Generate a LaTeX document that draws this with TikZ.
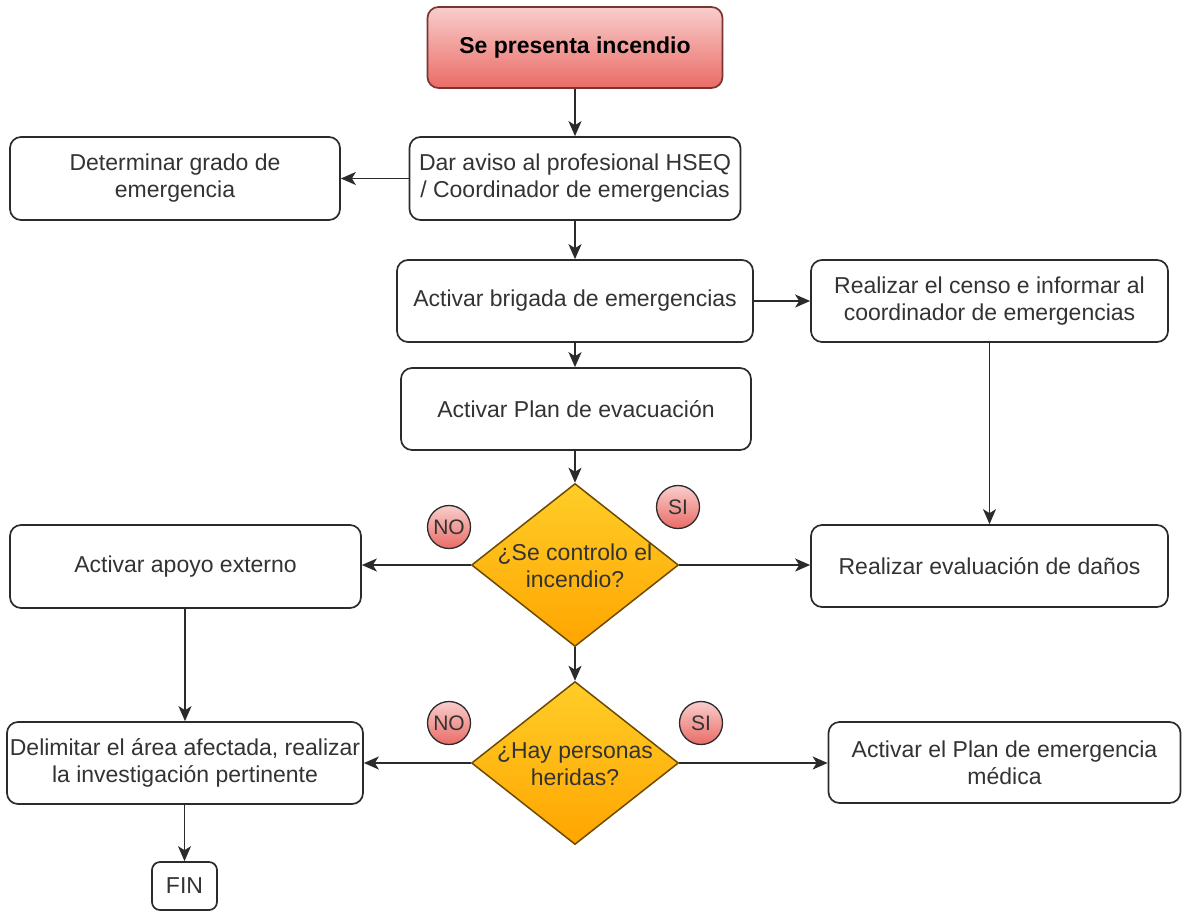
\documentclass[tikz,border=0pt]{standalone}
\usepackage{fontspec}
\setmainfont{Liberation Sans}
\usetikzlibrary{shapes.geometric,arrows.meta}
\definecolor{txt}{HTML}{333333}
\definecolor{lin}{HTML}{2B2B2B}
\definecolor{redtop}{HTML}{F8CECC}
\definecolor{redbot}{HTML}{EA6B66}
\definecolor{redln}{HTML}{7A3533}
\definecolor{ortop}{HTML}{FFCD28}
\definecolor{orbot}{HTML}{FFA500}
\definecolor{orln}{HTML}{6E4A00}
\tikzset{
  procbox/.style={draw=lin, line width=1.7pt, rounded corners=11pt, fill=white,
    inner sep=0pt, align=center, text=txt,
    font=\fontsize{23}{27}\selectfont},
  startbox/.style={procbox, top color=redtop, bottom color=redbot, draw=redln,
    text=black, font=\fontsize{23}{27}\selectfont\bfseries},
  decbox/.style={diamond, draw=orln, line width=1.5pt, top color=ortop, bottom color=orbot,
    inner sep=0pt, minimum width=207pt, minimum height=163pt},
  dectext/.style={align=center, text=txt, inner sep=0pt, font=\fontsize{23}{27}\selectfont},
  tagcirc/.style={circle, draw=lin, line width=1.3pt, top color=redtop, bottom color=redbot,
    minimum size=43pt, inner sep=0pt, text=txt, font=\fontsize{21}{23}\selectfont},
  conn/.style={draw=lin, line width=1.7pt, -{Stealth[length=15pt,width=13pt,inset=4pt]}},
}
\begin{document}
\begin{tikzpicture}[x=1pt,y=-1pt]
\useasboundingbox (0,0) rectangle (1182,913);
% nodes
\node[startbox, minimum width=295pt, minimum height=81pt] (start) at (575,47.5) {Se presenta incendio};
\node[procbox, minimum width=331pt, minimum height=83pt] (aviso) at (575,178.5) {Dar aviso al profesional HSEQ\\/ Coordinador de emergencias};
\node[procbox, minimum width=330pt, minimum height=83pt] (grado) at (175,178.5) {Determinar grado de\\emergencia};
\node[procbox, minimum width=356pt, minimum height=82pt] (brig) at (575,301) {Activar brigada de emergencias};
\node[procbox, minimum width=357pt, minimum height=82pt] (censo) at (989.5,301) {Realizar el censo e informar al\\coordinador de emergencias};
\node[procbox, minimum width=350pt, minimum height=82pt] (evac) at (576,409) {Activar Plan de evacuación};
\node[decbox] (d1) at (575,565) {};
\node[dectext] (d1t) at (575,566) {¿Se controlo el\\incendio?};
\node[procbox, minimum width=351pt, minimum height=83pt] (apoyo) at (185.5,566.5) {Activar apoyo externo};
\node[procbox, minimum width=357pt, minimum height=82pt] (danos) at (989.5,566) {Realizar evaluación de daños};
\node[decbox] (d2) at (575,763) {};
\node[dectext] (d2t) at (575,764) {¿Hay personas\\heridas?};
\node[procbox, minimum width=356pt, minimum height=82pt] (delim) at (185,763) {Delimitar el área afectada, realizar\\la investigación pertinente};
\node[procbox, minimum width=352pt, minimum height=81pt] (medica) at (1004.5,762.5) {Activar el Plan de emergencia\\médica};
\node[procbox, minimum width=65pt, minimum height=48pt, rounded corners=8pt] (fin) at (184.5,886) {FIN};
% tags
\node[tagcirc] (no1) at (449,527) {NO};
\node[tagcirc] (si1) at (678,507) {SI};
\node[tagcirc] (no2) at (449,723) {NO};
\node[tagcirc] (si2) at (701,723) {SI};
% connectors
\draw[conn] (start.south) -- (aviso.north);
\draw[conn] (aviso.west) -- (grado.east);
\draw[conn] (aviso.south) -- (brig.north);
\draw[conn] (brig.east) -- (censo.west);
\draw[conn] (censo.south) -- (danos.north);
\draw[conn] (brig.south) -- (brig.south |- evac.north);
\draw[conn] (evac.south -| d1.north) -- (d1.north);
\draw[conn] (d1.west) -- (apoyo.east |- d1.west);
\draw[conn] (d1.east) -- (danos.west |- d1.east);
\draw[conn] (d1.south) -- (d2.north);
\draw[conn] (d2.west) -- (delim.east |- d2.west);
\draw[conn] (d2.east) -- (medica.west |- d2.east);
\draw[conn] (apoyo.south -| delim.north) -- (delim.north);
\draw[conn] (delim.south -| fin.north) -- (fin.north);
\end{tikzpicture}
\end{document}
